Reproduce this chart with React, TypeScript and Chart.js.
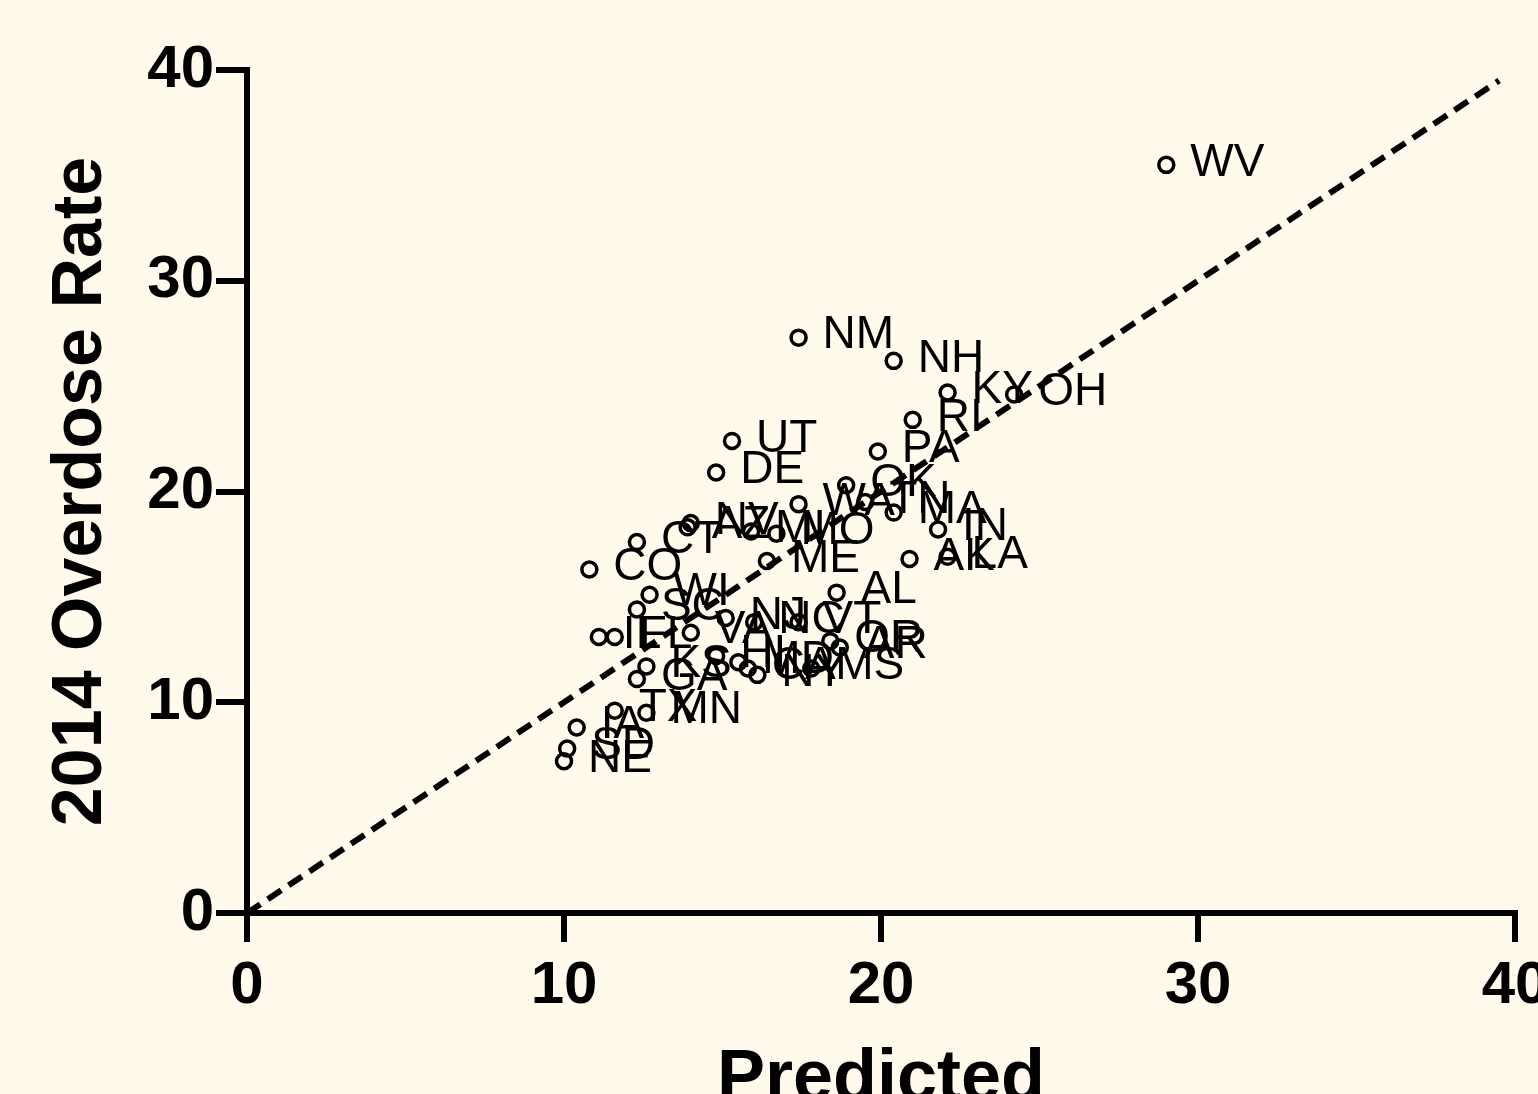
import React, { useEffect, useRef } from 'react';
import { Chart, registerables } from 'chart.js';

Chart.register(...registerables);

// State abbreviations, predicted rate (x) and 2014 overdose rate (y)
const states = [
  'WV', 'NM', 'NH', 'KY', 'OH', 'RI', 'PA', 'UT', 'DE', 'OK',
  'WA', 'TN', 'MA', 'IN', 'AK', 'LA', 'CT', 'CO', 'AZ', 'NV',
  'MI', 'MO', 'ME', 'WI', 'SC', 'IL', 'FL', 'AL', 'NJ', 'NC',
  'VT', 'OR', 'AR', 'MS', 'NY', 'GA', 'KS', 'TX', 'MN', 'IA',
  'SD', 'NE', 'CA', 'MD', 'VA', 'HI',
];
const predicted = [
  29.0, 17.4, 20.4, 22.1, 24.2, 21.0, 19.9, 15.3, 14.8, 18.9,
  17.4, 19.5, 20.4, 21.8, 20.9, 22.1, 12.3, 10.8, 13.9, 14.0,
  15.9, 16.7, 16.4, 12.7, 12.3, 11.1, 11.6, 18.6, 15.1, 16.0,
  17.4, 18.4, 18.7, 17.8, 16.1, 12.3, 12.6, 11.6, 12.6, 10.4,
  10.1, 10.0, 15.8, 15.5, 14.0, 14.8,
];
const actual = [
  35.5, 27.3, 26.2, 24.7, 24.6, 23.4, 21.9, 22.4, 20.9, 20.3,
  19.4, 19.5, 19.0, 18.2, 16.8, 16.9, 17.6, 16.3, 18.3, 18.5,
  18.1, 18.0, 16.7, 15.1, 14.4, 13.1, 13.1, 15.2, 14.0, 13.8,
  13.8, 12.9, 12.6, 11.6, 11.3, 11.1, 11.7, 9.6, 9.5, 8.8,
  7.8, 7.2, 11.6, 11.9, 13.3, 12.2,
];
// Identity reference line (dashed)
const identityLine = [0, 39.5];

const axisMin = 0;
const axisMax = 40;
const tickStep = 10;

const BG = '#fffaeb';
const FONT = '"Liberation Sans", Arial, Helvetica, sans-serif';

const W = 1600;
const H = 1140;

export default function App() {
  const ref = useRef<HTMLCanvasElement | null>(null);

  useEffect(() => {
    document.body.style.margin = '0';
    document.body.style.background = BG;
    const canvas = ref.current;
    if (!canvas) return;

    const bgPlugin = {
      id: 'bg',
      beforeDraw(chart: any) {
        const ctx = chart.ctx;
        ctx.save();
        ctx.fillStyle = BG;
        ctx.fillRect(0, 0, chart.width, chart.height);
        ctx.restore();
      },
    };

    const labelPlugin = {
      id: 'pointLabels',
      afterDatasetDraw(chart: any, args: any) {
        if (args.index !== 1) return;
        const ctx = chart.ctx;
        const meta = chart.getDatasetMeta(1);
        ctx.save();
        ctx.font = `46px ${FONT}`;
        ctx.fillStyle = '#000';
        ctx.textAlign = 'left';
        ctx.textBaseline = 'middle';
        meta.data.forEach((el: any, i: number) => {
          ctx.fillText(states[i], el.x + 24, el.y - 2);
        });
        ctx.restore();
      },
    };

    const chart = new Chart(canvas, {
      type: 'scatter',
      data: {
        datasets: [
          {
            label: 'identity',
            data: identityLine.map((v) => ({ x: v, y: v })),
            showLine: true,
            borderColor: '#000',
            borderWidth: 6,
            borderDash: [16, 9],
            pointRadius: 0,
            fill: false,
          } as any,
          {
            label: 'states',
            data: states.map((_, i) => ({ x: predicted[i], y: actual[i] })),
            pointRadius: 7.5,
            pointBorderWidth: 3.5,
            pointBorderColor: '#000',
            pointBackgroundColor: 'rgba(0,0,0,0)',
            showLine: false,
          },
        ],
      },
      options: {
        responsive: false,
        animation: false,
        devicePixelRatio: 1,
        layout: { padding: { left: 0, top: 70, right: W - 1515, bottom: 0 } },
        plugins: {
          legend: { display: false },
          tooltip: { enabled: false },
        },
        scales: {
          x: {
            type: 'linear',
            min: axisMin,
            max: axisMax,
            afterFit(scale: any) {
              scale.height = H - 913;
            },
            ticks: {
              stepSize: tickStep,
              color: '#000',
              font: { family: FONT, size: 60, weight: 'bold' },
              padding: 8,
              maxRotation: 0,
              autoSkip: false,
            },
            grid: {
              display: true,
              drawOnChartArea: false,
              drawTicks: true,
              tickLength: 29,
              lineWidth: 6,
              color: '#000',
            },
            border: { display: true, width: 6, color: '#000' },
            title: {
              display: true,
              text: 'Predicted',
              color: '#000',
              font: { family: FONT, size: 72, weight: 'bold' },
              padding: { top: 0, bottom: 17 },
            },
          },
          y: {
            type: 'linear',
            min: axisMin,
            max: axisMax,
            afterFit(scale: any) {
              scale.width = 247;
            },
            ticks: {
              stepSize: tickStep,
              color: '#000',
              font: { family: FONT, size: 60, weight: 'bold' },
              padding: 2,
              autoSkip: false,
            },
            grid: {
              display: true,
              drawOnChartArea: false,
              drawTicks: true,
              tickLength: 31,
              lineWidth: 6,
              color: '#000',
            },
            border: { display: true, width: 6, color: '#000' },
            title: {
              display: true,
              text: '2014 Overdose Rate',
              color: '#000',
              font: { family: FONT, size: 70, weight: 'bold' },
              padding: { top: 40, bottom: 0 },
            },
          },
        },
      },
      plugins: [bgPlugin, labelPlugin],
    } as any);

    return () => {
      chart.destroy();
    };
  }, []);

  return (
    <div
      style={{
        position: 'fixed',
        left: 0,
        top: 0,
        width: W,
        height: H,
        background: BG,
      }}
    >
      <canvas ref={ref} width={W} height={H} style={{ display: 'block' }} />
    </div>
  );
}
